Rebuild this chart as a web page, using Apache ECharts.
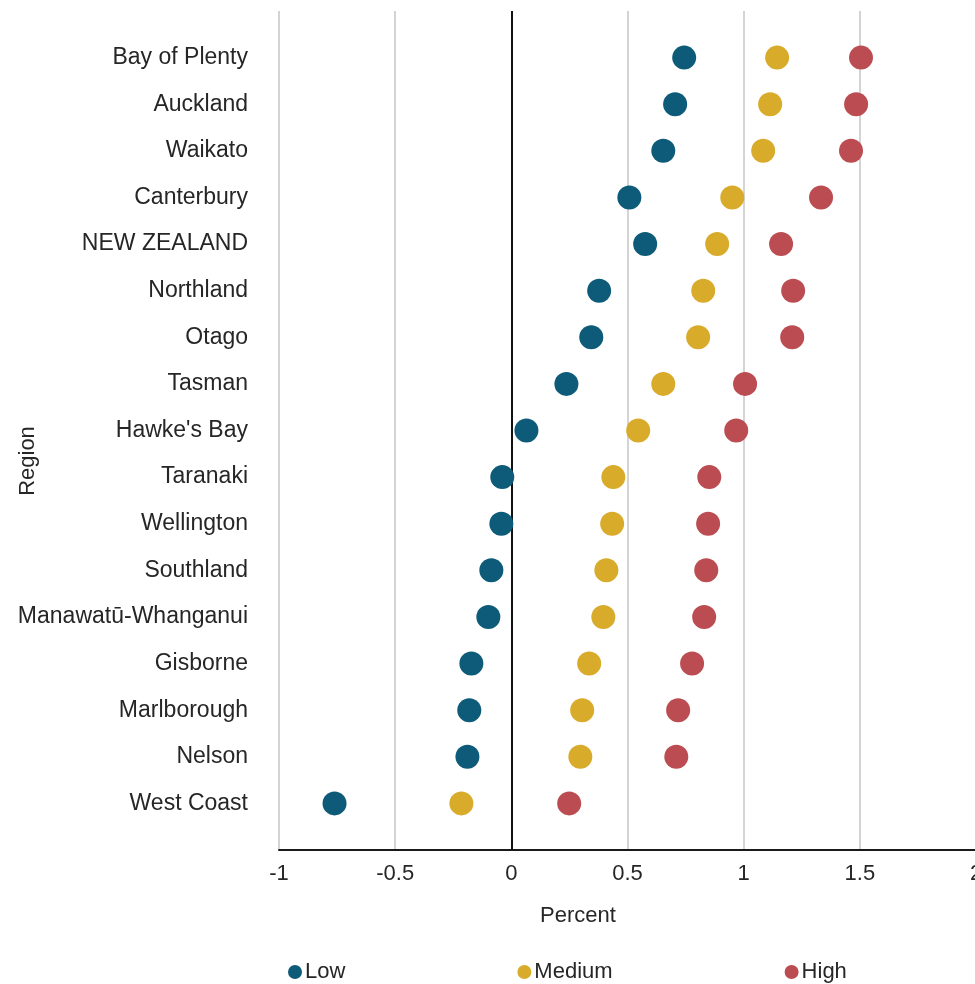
<!DOCTYPE html>
<html>
<head>
<meta charset="utf-8">
<script src="https://cdn.jsdelivr.net/npm/echarts@6/dist/echarts.min.js"></script>
<style>html,body{margin:0;padding:0;background:#fff;overflow:hidden}#c{width:975px;height:984px}</style>
</head>
<body>
<div id="c"></div>
<script>
const regions = ["Bay of Plenty","Auckland","Waikato","Canterbury","NEW ZEALAND","Northland","Otago","Tasman","Hawke's Bay","Taranaki","Wellington","Southland","Manawatū-Whanganui","Gisborne","Marlborough","Nelson","West Coast"];
const low    = [0.744,0.705,0.654,0.508,0.576,0.378,0.344,0.237,0.065,-0.039,-0.043,-0.086,-0.099,-0.172,-0.181,-0.189,-0.761];
const medium = [1.144,1.114,1.084,0.951,0.886,0.826,0.804,0.654,0.546,0.439,0.434,0.409,0.396,0.335,0.305,0.297,-0.215];
const high   = [1.505,1.484,1.462,1.333,1.161,1.213,1.209,1.006,0.968,0.852,0.847,0.839,0.830,0.778,0.718,0.710,0.249];
const xTicks = [-1,-0.5,0,0.5,1,1.5,2];
const seriesNames = ["Low","Medium","High"];
const colors = ["#0d5b78","#d9ab2b","#bb4d52"];

const FONT = "'Liberation Sans', Arial, sans-serif";
const TXT = "#262626";
const toPts = arr => arr.map((v,i)=>[v,i+1]);

const chart = echarts.init(document.getElementById('c'));
chart.setOption({
  backgroundColor:'#fff',
  animation:false,
  color: colors,
  textStyle:{fontFamily:FONT},
  grid:{left:279,right:-1,top:11,bottom:134,containLabel:false,outerBoundsMode:'none'},
  xAxis:{
    type:'value',min:xTicks[0],max:xTicks[xTicks.length-1],interval:0.5,
    axisLine:{show:true,onZero:false,lineStyle:{color:'#1a1a1a',width:2}},
    axisTick:{show:false},
    splitLine:{show:true,lineStyle:{color:'#d4d4d4',width:2}},
    axisLabel:{color:TXT,fontSize:22,fontFamily:FONT,margin:13,showMaxLabel:true,hideOverlap:false}
  },
  yAxis:{
    type:'value',min:0,max:regions.length+1,interval:1,inverse:true,
    axisLine:{show:false},axisTick:{show:false},splitLine:{show:false},
    axisLabel:{color:TXT,fontSize:23,fontFamily:FONT,margin:31,
      formatter:v=>regions[v-1]||''}
  },
  legend:{
    data:seriesNames,left:283,top:956,itemGap:172,itemWidth:14,itemHeight:14,
    icon:'circle',itemStyle:{borderWidth:0},
    textStyle:{color:TXT,fontSize:22,fontFamily:FONT,padding:[0,0,0,-2]}
  },
  graphic:[
    {type:'text',x:578,y:916,style:{text:'Percent',align:'center',verticalAlign:'middle',fill:TXT,font:"22px 'Liberation Sans', Arial, sans-serif"}},
    {type:'text',x:28,y:461,rotation:Math.PI/2,style:{text:'Region',align:'center',verticalAlign:'middle',fill:TXT,font:"22px 'Liberation Sans', Arial, sans-serif"}}
  ],
  series:[
    {name:seriesNames[0],type:'scatter',data:toPts(low),symbolSize:24,itemStyle:{color:colors[0],opacity:1},z:3,
      markLine:{silent:true,symbol:'none',label:{show:false},lineStyle:{color:'#111',width:2,type:'solid'},data:[{xAxis:0}],z:2}},
    {name:seriesNames[1],type:'scatter',data:toPts(medium),symbolSize:24,itemStyle:{color:colors[1],opacity:1},z:3},
    {name:seriesNames[2],type:'scatter',data:toPts(high),symbolSize:24,itemStyle:{color:colors[2],opacity:1},z:3}
  ]
});
</script>
</body>
</html>
